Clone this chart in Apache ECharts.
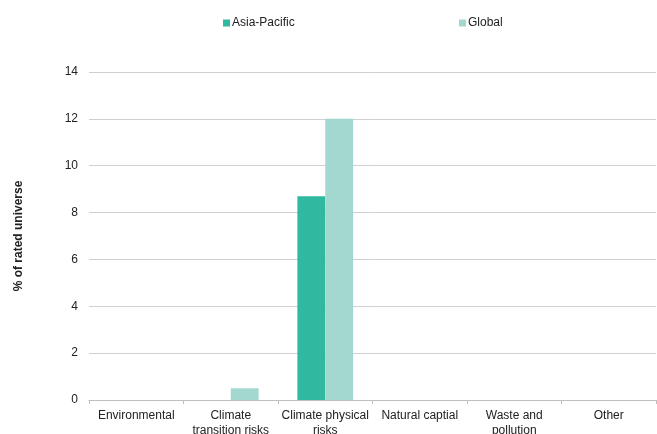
<!DOCTYPE html>
<html>
<head>
<meta charset="utf-8">
<script src="https://cdn.jsdelivr.net/npm/echarts@6/dist/echarts.min.js"></script>
<style>
  html, body { margin: 0; padding: 0; background: #fff; }
  #chart { width: 657px; height: 434px; }
</style>
</head>
<body>
<div id="chart"></div>
<script>
// Share of rated universe by environmental risk category
const categories = [
  'Environmental',
  'Climate\ntransition risks',
  'Climate physical\nrisks',
  'Natural captial',
  'Waste and\npollution',
  'Other'
];
const asiaPacific = [0, 0, 8.7, 0, 0, 0];
const globalVals = [0, 0.5, 12, 0, 0, 0];
const yTicks = { min: 0, max: 14, interval: 2 };

const font = 'Liberation Sans, Arial, sans-serif';
const chart = echarts.init(document.getElementById('chart'), null, { renderer: 'canvas' });

const legendStyle = {
  top: 12,
  itemWidth: 7,
  itemHeight: 7,
  itemGap: 3,
  icon: 'rect',
  textStyle: { fontFamily: font, fontSize: 12, color: '#222', padding: [0, 0, 0, -3] }
};

chart.setOption({
  animation: false,
  textStyle: { fontFamily: font },
  legend: [
    Object.assign({ left: 218, data: ['Asia-Pacific'] }, legendStyle),
    Object.assign({ left: 454, data: ['Global'] }, legendStyle)
  ],
  grid: { left: 89, right: 1, top: 72, bottom: 34, outerBoundsMode: 'none', containLabel: false },
  xAxis: {
    type: 'category',
    data: categories,
    boundaryGap: true,
    axisLine: { lineStyle: { color: '#bfbfbf', width: 1 } },
    axisTick: { show: true, length: 4, lineStyle: { color: '#bfbfbf' } },
    axisLabel: {
      interval: 0,
      margin: 8,
      fontFamily: font,
      fontSize: 12,
      color: '#222',
      lineHeight: 15
    }
  },
  yAxis: {
    type: 'value',
    min: yTicks.min,
    max: yTicks.max,
    interval: yTicks.interval,
    name: '% of rated universe',
    nameLocation: 'middle',
    nameGap: 64,
    nameRotate: 90,
    nameTextStyle: { fontFamily: font, fontSize: 12, fontWeight: 'bold', color: '#222' },
    axisLine: { show: false },
    axisTick: { show: false },
    axisLabel: { fontFamily: font, fontSize: 12, color: '#222', margin: 11 },
    splitLine: { lineStyle: { color: '#d0d0d0', width: 1 } }
  },
  series: [
    {
      name: 'Asia-Pacific',
      type: 'bar',
      data: asiaPacific,
      barWidth: '29.5%',
      barGap: '0%',
      itemStyle: { color: '#30b9a0' }
    },
    {
      name: 'Global',
      type: 'bar',
      data: globalVals,
      barWidth: '29.5%',
      itemStyle: { color: '#a2d8d0' }
    }
  ]
});
</script>
</body>
</html>
